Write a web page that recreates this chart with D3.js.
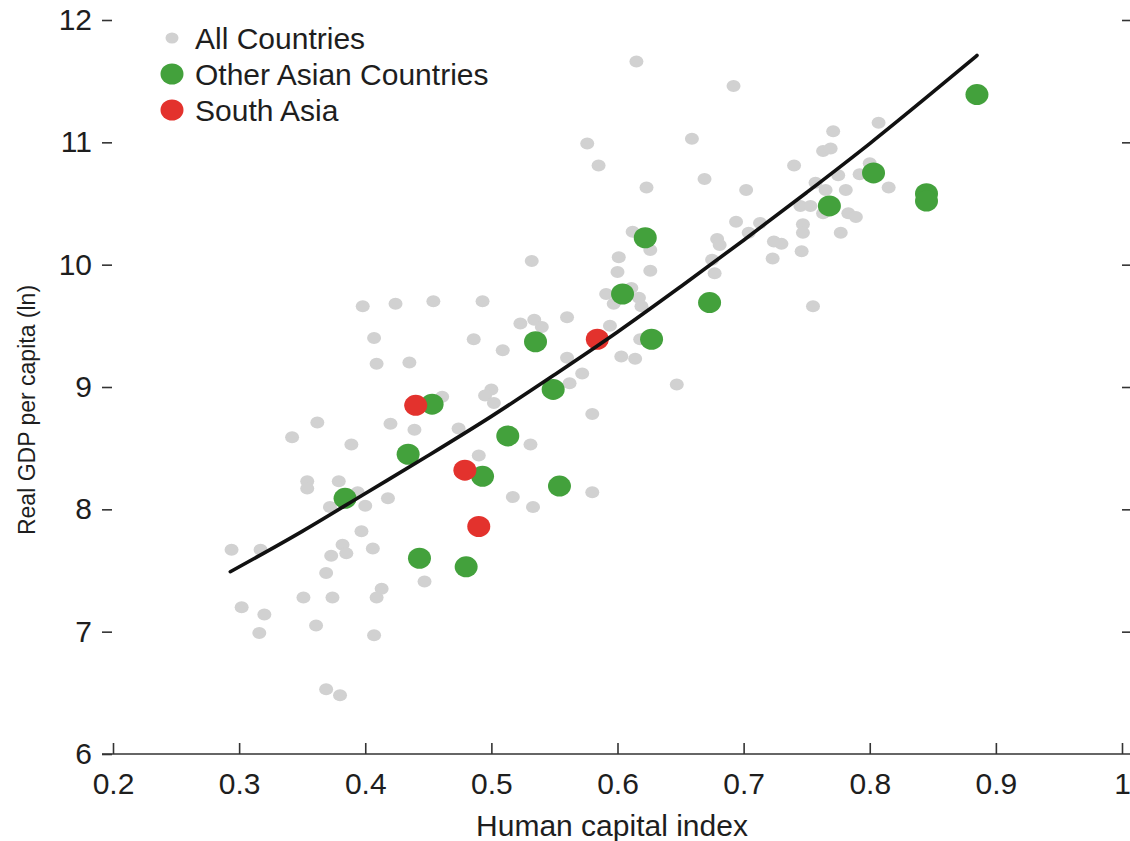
<!DOCTYPE html>
<html>
<head>
<meta charset="utf-8">
<script src="https://cdn.jsdelivr.net/npm/d3@7"></script>
<style>
  html, body { margin: 0; padding: 0; background: #ffffff; }
  svg { display: block; }
  text { font-family: "Liberation Sans", Arial, sans-serif; fill: #1e1e1e; }
</style>
</head>
<body>
<svg id="chart" width="1130" height="841"></svg>
<script>
// ---- Data ----
const allHci = [0.615,0.692,0.576,0.659,0.585,0.669,0.623,0.702,0.740,0.694,0.713,0.704,0.679,0.681,0.724,0.730,0.723,0.612,0.626,0.601,0.626,0.600,0.675,0.677,0.532,0.591,0.611,0.617,0.597,0.619,0.560,0.523,0.534,0.540,0.594,0.509,0.560,0.603,0.614,0.618,0.572,0.562,0.647,0.580,0.531,0.517,0.533,0.580,0.398,0.424,0.454,0.493,0.407,0.486,0.409,0.435,0.461,0.500,0.495,0.502,0.362,0.342,0.389,0.420,0.439,0.474,0.490,0.354,0.354,0.379,0.394,0.372,0.400,0.418,0.397,0.294,0.317,0.382,0.373,0.385,0.406,0.369,0.447,0.413,0.409,0.351,0.374,0.302,0.320,0.316,0.361,0.407,0.369,0.380,0.771,0.763,0.769,0.807,0.800,0.792,0.775,0.757,0.765,0.781,0.815,0.745,0.753,0.763,0.783,0.789,0.747,0.747,0.777,0.746,0.755];
const allGdp = [11.66,11.46,10.99,11.03,10.81,10.70,10.63,10.61,10.81,10.35,10.34,10.26,10.21,10.16,10.19,10.17,10.05,10.27,10.12,10.06,9.95,9.94,10.04,9.93,10.03,9.76,9.81,9.73,9.68,9.66,9.57,9.52,9.55,9.49,9.50,9.30,9.24,9.25,9.23,9.39,9.11,9.03,9.02,8.78,8.53,8.10,8.02,8.14,9.66,9.68,9.70,9.70,9.40,9.39,9.19,9.20,8.92,8.98,8.93,8.87,8.71,8.59,8.53,8.70,8.65,8.66,8.44,8.23,8.17,8.23,8.14,8.02,8.03,8.09,7.82,7.67,7.67,7.71,7.62,7.64,7.68,7.48,7.41,7.35,7.28,7.28,7.28,7.20,7.14,6.99,7.05,6.97,6.53,6.48,11.09,10.93,10.95,11.16,10.83,10.74,10.73,10.67,10.61,10.61,10.63,10.48,10.48,10.42,10.42,10.39,10.33,10.26,10.26,10.11,9.66];

const otherHci = [0.885,0.803,0.845,0.845,0.768,0.622,0.604,0.673,0.535,0.627,0.549,0.513,0.554,0.453,0.434,0.493,0.384,0.443,0.480];
const otherGdp = [11.39,10.75,10.58,10.52,10.48,10.22,9.76,9.69,9.37,9.39,8.98,8.60,8.19,8.86,8.45,8.27,8.09,7.60,7.53];

const southHci = [0.440,0.479,0.490,0.584];
const southGdp = [8.85,8.32,7.86,9.39];

const fitHci = [0.293,0.35,0.40,0.45,0.50,0.55,0.60,0.65,0.70,0.75,0.80,0.85,0.885];
const fitGdp = [7.49,7.82,8.13,8.44,8.76,9.10,9.45,9.82,10.20,10.59,10.99,11.41,11.71];

const xTickValues = [0.2,0.3,0.4,0.5,0.6,0.7,0.8,0.9,1.0];
const xTickLabels = ["0.2","0.3","0.4","0.5","0.6","0.7","0.8","0.9","1"];
const yTickValues = [6,7,8,9,10,11,12];
const yTickLabels = ["6","7","8","9","10","11","12"];

const legendLabels = ["All Countries","Other Asian Countries","South Asia"];
const colors = { all: "#d1d1d1", other: "#43a13c", south: "#e3322d" };

// ---- Drawing ----
const svg = d3.select("#chart");
const x = d3.scaleLinear().domain([0.2, 1.0]).range([113, 1122]);
const y = d3.scaleLinear().domain([6, 12]).range([754, 20]);

// x axis
const xAxis = d3.axisBottom(x)
  .tickValues(xTickValues)
  .tickFormat((d, i) => xTickLabels[i])
  .tickSizeInner(-11).tickSizeOuter(0).tickPadding(19);
const gx = svg.append("g").attr("transform", "translate(0,754)").call(xAxis);
gx.select(".domain").remove();
gx.selectAll(".tick line").attr("stroke", "#333").attr("stroke-width", 1.6);
gx.selectAll(".tick text").attr("font-size", 30).attr("fill", "#1e1e1e")
  .style("font-family", "'Liberation Sans', Arial, sans-serif");
gx.append("line").attr("x1", 102).attr("x2", 1130).attr("y1", 0).attr("y2", 0)
  .attr("stroke", "#333").attr("stroke-width", 1.6);

// left y axis
const yAxisL = d3.axisLeft(y)
  .tickValues(yTickValues)
  .tickFormat((d, i) => yTickLabels[i])
  .tickSizeInner(10).tickSizeOuter(0).tickPadding(10);
const gyl = svg.append("g").attr("transform", "translate(112,0)").call(yAxisL);
gyl.select(".domain").remove();
gyl.selectAll(".tick line").attr("stroke", "#333").attr("stroke-width", 1.6);
gyl.selectAll(".tick text").attr("font-size", 30).attr("fill", "#1e1e1e")
  .style("font-family", "'Liberation Sans', Arial, sans-serif");

// right y axis (ticks only)
const yAxisR = d3.axisRight(y)
  .tickValues(yTickValues.filter(v => v > 6))
  .tickFormat("")
  .tickSizeInner(8).tickSizeOuter(0);
const gyr = svg.append("g").attr("transform", "translate(1122,0)").call(yAxisR);
gyr.select(".domain").remove();
gyr.selectAll(".tick line").attr("stroke", "#333").attr("stroke-width", 1.6);

// points
const allData = allHci.map((v, i) => ({ x: v, y: allGdp[i] }));
const otherData = otherHci.map((v, i) => ({ x: v, y: otherGdp[i] }));
const southData = southHci.map((v, i) => ({ x: v, y: southGdp[i] }));

svg.append("g").selectAll("ellipse").data(allData).join("ellipse")
  .attr("cx", d => x(d.x)).attr("cy", d => y(d.y))
  .attr("rx", 7).attr("ry", 6).attr("fill", colors.all);

svg.append("g").selectAll("ellipse").data(otherData).join("ellipse")
  .attr("cx", d => x(d.x)).attr("cy", d => y(d.y))
  .attr("rx", 11.5).attr("ry", 10.5).attr("fill", colors.other);

svg.append("g").selectAll("ellipse").data(southData).join("ellipse")
  .attr("cx", d => x(d.x)).attr("cy", d => y(d.y))
  .attr("rx", 11.5).attr("ry", 10.5).attr("fill", colors.south);

// fitted line
const fitData = fitHci.map((v, i) => ({ x: v, y: fitGdp[i] }));
const line = d3.line().x(d => x(d.x)).y(d => y(d.y)).curve(d3.curveMonotoneX);
svg.append("path").datum(fitData).attr("d", line)
  .attr("fill", "none").attr("stroke", "#111").attr("stroke-width", 3.6)
  .attr("stroke-linecap", "round");

// legend
const legend = svg.append("g");
const legendItems = [
  { label: legendLabels[0], color: colors.all, rx: 6.5, ry: 5.5, cy: 38 },
  { label: legendLabels[1], color: colors.other, rx: 11.5, ry: 10.5, cy: 74 },
  { label: legendLabels[2], color: colors.south, rx: 11.5, ry: 10.5, cy: 110 }
];
legendItems.forEach(it => {
  legend.append("ellipse").attr("cx", 172).attr("cy", it.cy)
    .attr("rx", it.rx).attr("ry", it.ry).attr("fill", it.color);
  legend.append("text").attr("x", 195).attr("y", it.cy + 11)
    .attr("font-size", 30).text(it.label);
});

// axis titles
svg.append("text").attr("x", 612).attr("y", 836).attr("text-anchor", "middle")
  .attr("font-size", 30).text("Human capital index");
svg.append("text").attr("transform", "translate(35,410) rotate(-90)")
  .attr("text-anchor", "middle").attr("font-size", 23).text("Real GDP per capita (ln)");
</script>
</body>
</html>
